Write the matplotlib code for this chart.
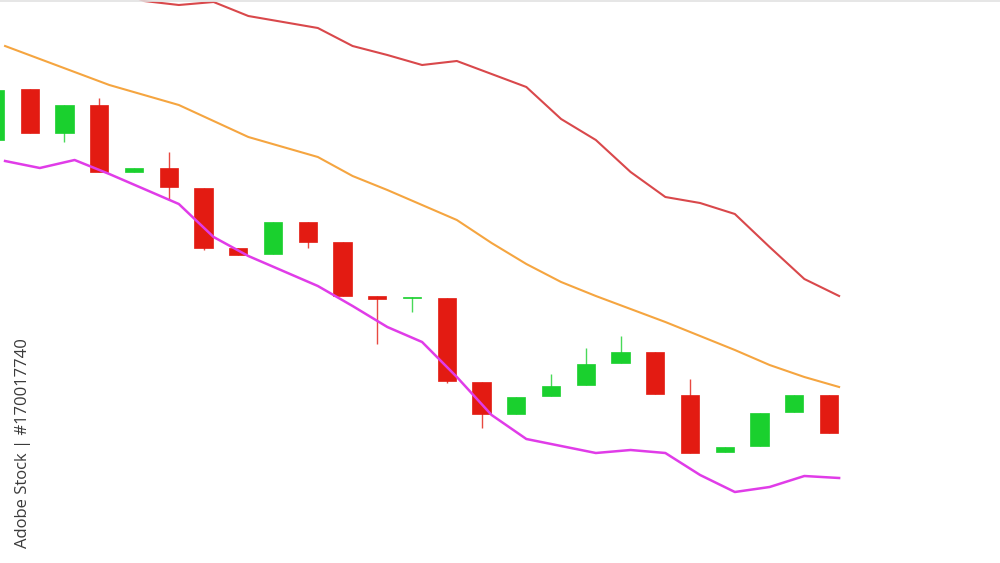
import matplotlib
matplotlib.use("Agg")
import matplotlib.pyplot as plt
import numpy as np

# ---- data (price units) ----
candle_idx = list(range(25))
opens = [86.0, 91.1, 86.7, 89.5, 82.8, 83.2, 81.2, 75.2, 74.6, 77.8, 75.8, 70.4, 70.2,
         70.2, 61.8, 58.6, 60.4, 61.5, 63.7, 64.8, 60.5, 54.8, 55.4, 58.8, 60.5]
highs = [91.0, 91.1, 89.5, 90.2, 83.2, 84.8, 81.2, 75.2, 77.8, 77.8, 75.8, 70.4, 70.3,
         70.2, 61.8, 60.3, 62.6, 65.2, 66.4, 64.8, 62.1, 55.3, 58.7, 60.5, 60.5]
lows = [86.0, 86.7, 85.8, 82.8, 82.8, 80.0, 75.0, 74.5, 74.6, 75.2, 70.4, 65.6, 68.8,
        61.7, 57.2, 58.6, 60.4, 61.5, 63.7, 60.6, 54.7, 54.8, 55.4, 58.8, 56.7]
closes = [91.0, 86.7, 89.5, 82.8, 83.2, 81.3, 75.2, 74.5, 77.8, 75.8, 70.4, 70.1, 70.3,
          61.9, 58.6, 60.3, 61.4, 63.6, 64.8, 60.6, 54.7, 55.3, 58.7, 60.5, 56.7]

upper_band = [103.6, 103.0, 102.2, 101.2, 99.9, 99.5, 99.8, 98.4, 97.8, 97.2, 95.4, 94.5, 93.5,
              93.9, 92.6, 91.3, 88.1, 86.0, 82.8, 80.3, 79.7, 78.6, 75.3, 72.1, 70.4]
middle_band = [95.4, 94.1, 92.8, 91.5, 90.5, 89.5, 87.9, 86.3, 85.3, 84.3, 82.4, 81.0, 79.5,
               78.0, 75.7, 73.6, 71.8, 70.4, 69.1, 67.8, 66.4, 65.0, 63.5, 62.3, 61.3]
lower_band = [83.9, 83.2, 84.0, 82.6, 81.1, 79.6, 76.3, 74.4, 72.9, 71.4, 69.4, 67.3, 65.8,
              62.3, 58.5, 56.1, 55.4, 54.7, 55.0, 54.7, 52.5, 50.8, 51.3, 52.4, 52.2]

stock_label = "Adobe Stock | #170017740"

# ---- style ----
UP = "#1ad02e"
DOWN = "#e31b12"
body_w = 0.52
band_shift = 0.29

fig = plt.figure(figsize=(10, 5.63), dpi=100)
fig.patch.set_facecolor("white")
ax = fig.add_axes([0, 0, 1, 1])
ax.set_facecolor("white")

x = np.array(candle_idx, dtype=float)
for xi, o, h, l, c in zip(x, opens, highs, lows, closes):
    col = UP if c >= o else DOWN
    lo_b, hi_b = min(o, c), max(o, c)
    ax.vlines(xi, l, h, color=col, linewidth=1.0, alpha=0.8, zorder=2)
    ax.bar(xi, hi_b - lo_b, bottom=lo_b, width=body_w, color=col,
           edgecolor=col, linewidth=0.5, zorder=3)

xb = x + band_shift
ax.plot(xb, upper_band, color="#d9484b", linewidth=1.5, zorder=4)
ax.plot(xb, middle_band, color="#f5a540", linewidth=1.5, zorder=4)
ax.plot(xb, lower_band, color="#e03ce8", linewidth=1.8, zorder=4)

ax.set_xlim(0.144, 28.92)
ax.set_ylim(43.7, 100.0)
ax.axis("off")

# thin light border at top
fig.add_artist(plt.Line2D([0, 1], [0.999, 0.999], color="#e2e2e2", linewidth=1.2,
                          transform=fig.transFigure))

fig.text(0.023, 0.026, stock_label, rotation=90, ha="center", va="bottom",
         fontsize=12, color="#3a3a3a", family=["Open Sans", "DejaVu Sans"])

fig.savefig("out.png", dpi=100, facecolor="white")
